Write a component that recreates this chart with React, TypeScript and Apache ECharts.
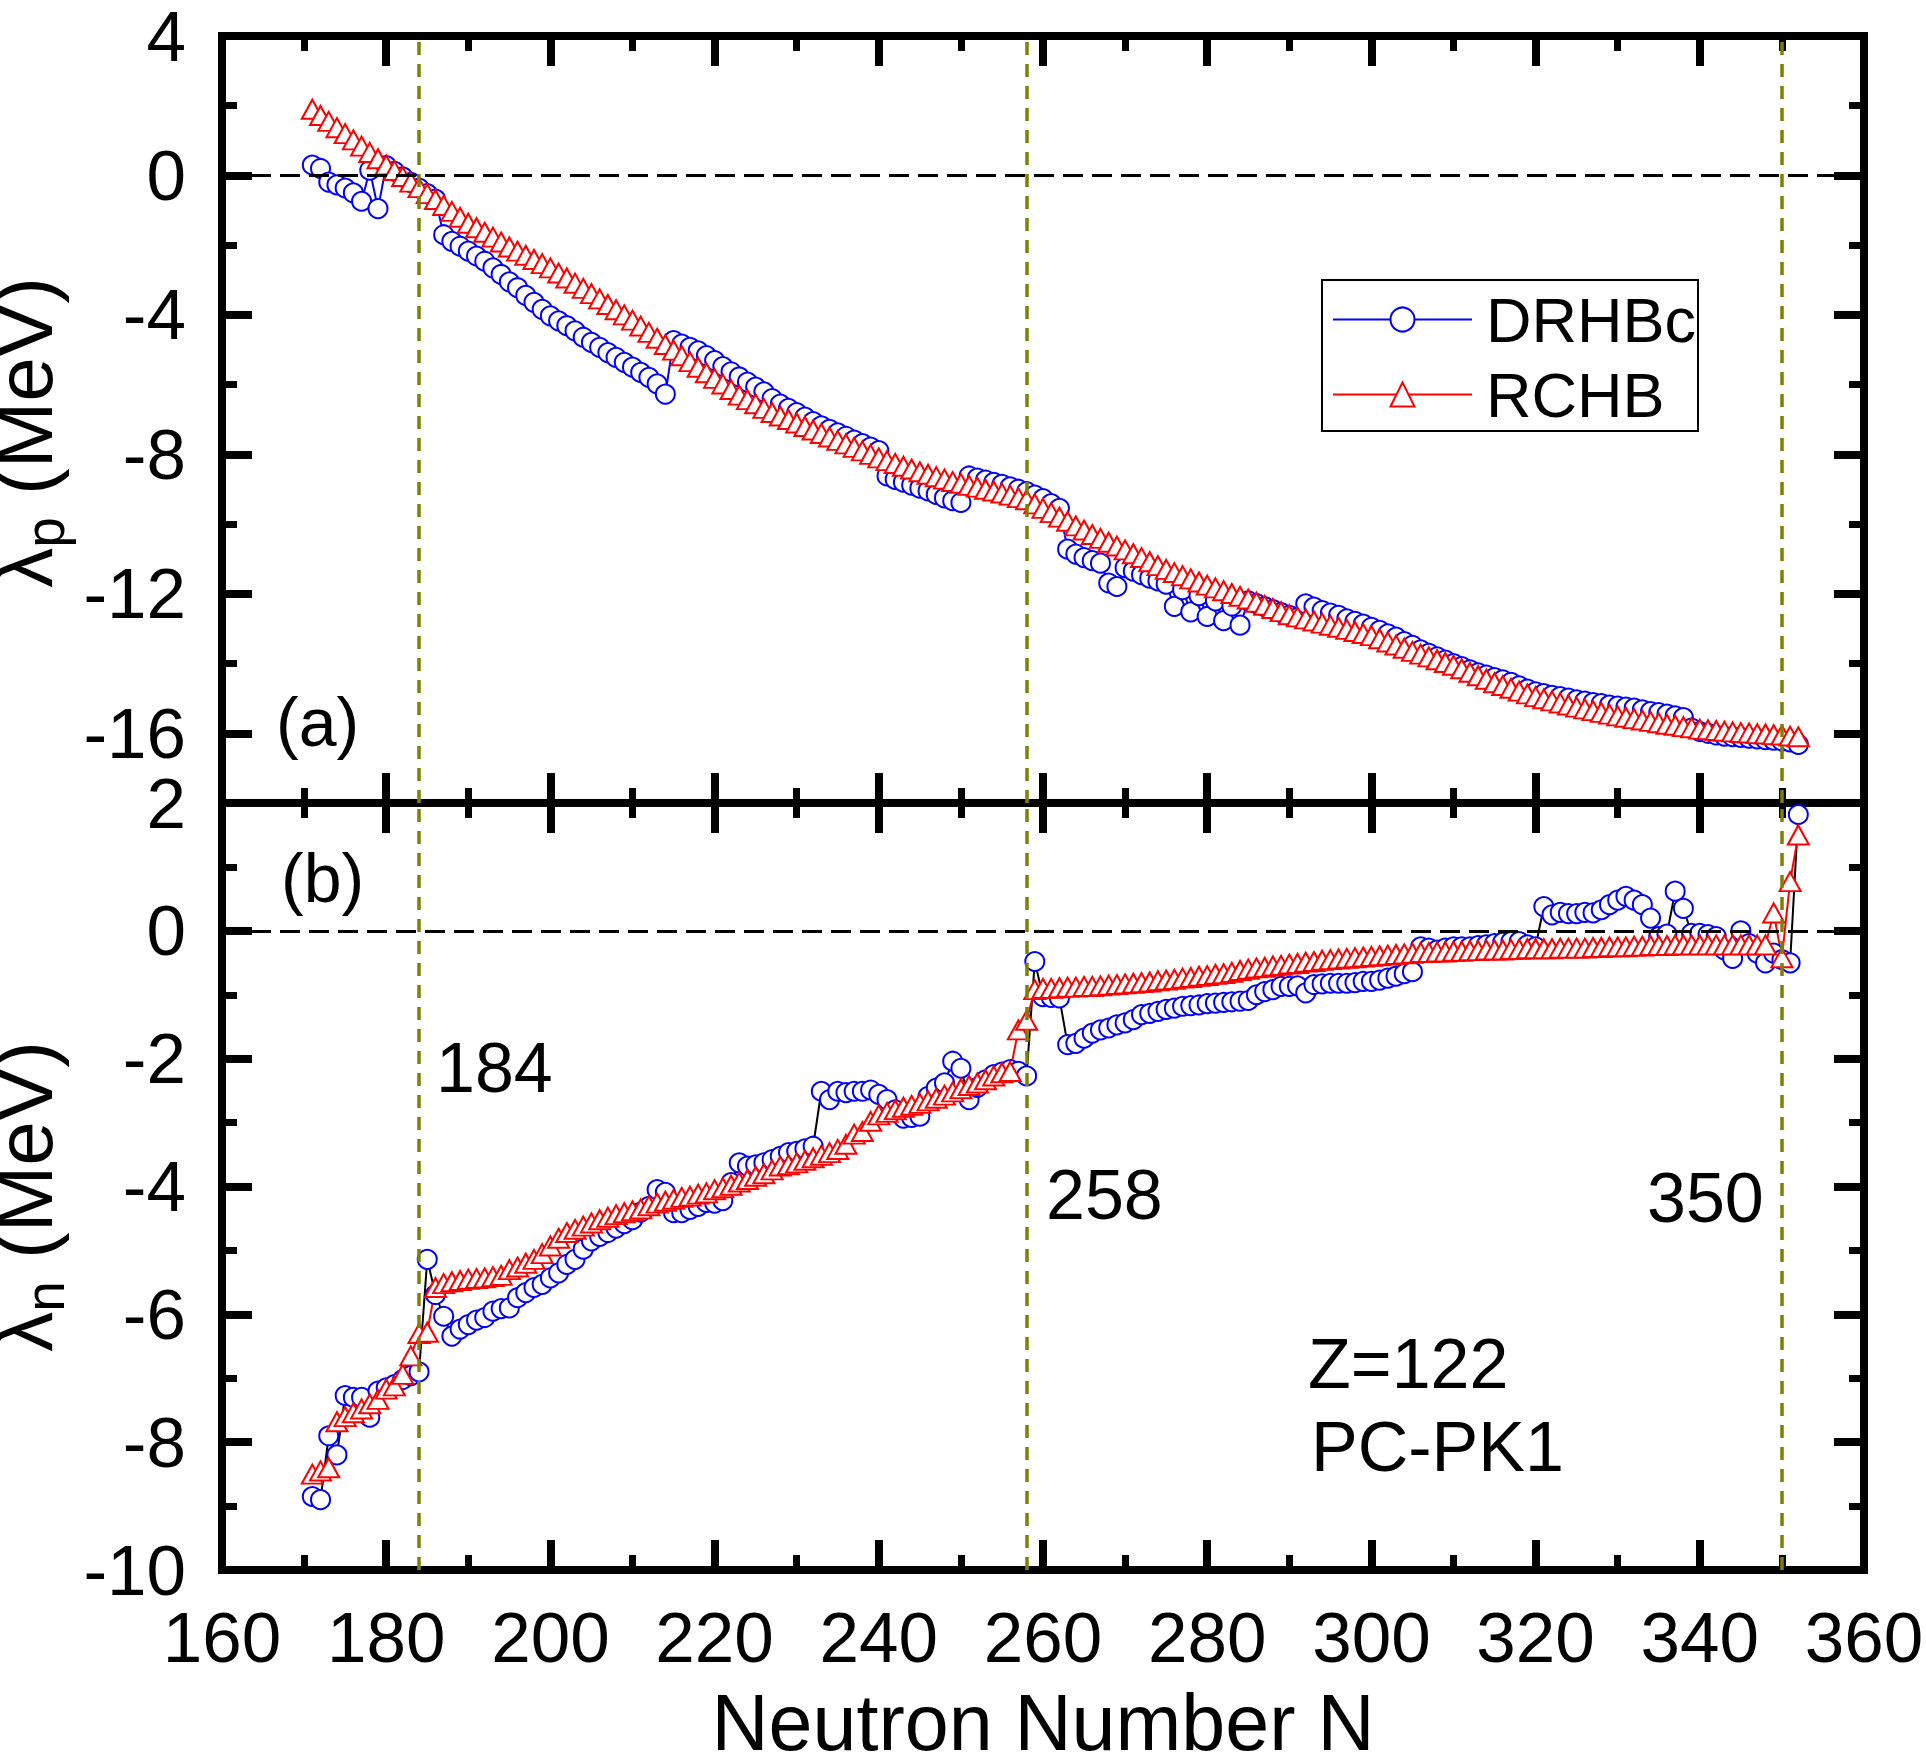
import React, { useEffect, useRef } from "react";
import * as echarts from "echarts";

// Neutron numbers N = 171 ... 352 (one point per N)
const N_FIRST = 171;
const N_LAST = 352;
const neutronNumbers: number[] = [];
for (let n = N_FIRST; n <= N_LAST; n++) neutronNumbers.push(n);

// (a) proton Fermi energy lambda_p (MeV), rows of 10 starting at N=171
const drhbcLambdaP = [
  0.30, 0.20, -0.19, -0.27, -0.36, -0.50, -0.74, 0.15, -0.95, 0.28,
  0.12, -0.04, -0.20, -0.36, -0.52, -0.68, -1.70, -1.89, -2.03, -2.17,
  -2.31, -2.46, -2.65, -2.84, -3.05, -3.22, -3.44, -3.64, -3.84, -4.03,
  -4.17, -4.31, -4.46, -4.64, -4.79, -4.93, -5.08, -5.22, -5.36, -5.50,
  -5.65, -5.79, -5.98, -6.27, -4.74, -4.84, -4.93, -5.03, -5.17, -5.31,
  -5.48, -5.63, -5.78, -5.93, -6.07, -6.21, -6.40, -6.56, -6.68, -6.80,
  -6.93, -7.06, -7.18, -7.28, -7.38, -7.48, -7.59, -7.69, -7.79, -7.89,
  -8.62, -8.72, -8.80, -8.88, -8.97, -9.05, -9.15, -9.25, -9.33, -9.38,
  -8.62, -8.68, -8.74, -8.80, -8.86, -8.93, -9.00, -9.07, -9.17, -9.27,
  -9.41, -9.55, -10.72, -10.86, -10.96, -11.05, -11.12, -11.69, -11.79, -11.25,
  -11.35, -11.45, -11.55, -11.63, -11.72, -12.36, -11.88, -12.52, -12.05, -12.65,
  -12.20, -12.77, -12.35, -12.90, -12.20, -12.28, -12.37, -12.45, -12.54, -12.62,
  -12.68, -12.29, -12.38, -12.48, -12.55, -12.62, -12.72, -12.79, -12.87, -12.96,
  -13.05, -13.15, -13.24, -13.37, -13.48, -13.61, -13.71, -13.81, -13.90, -14.00,
  -14.09, -14.18, -14.27, -14.33, -14.40, -14.47, -14.54, -14.64, -14.73, -14.81,
  -14.86, -14.91, -14.95, -14.99, -15.04, -15.08, -15.12, -15.15, -15.19, -15.22,
  -15.25, -15.28, -15.33, -15.38, -15.41, -15.45, -15.50, -15.55, -15.85, -15.95,
  -16.00, -16.05, -16.08, -16.10, -16.12, -16.14, -16.16, -16.18, -16.20, -16.22,
  -16.25, -16.32,
];

const rchbLambdaP = [
  1.90, 1.72, 1.55, 1.37, 1.20, 1.02, 0.84, 0.66, 0.48, 0.30,
  0.14, -0.03, -0.19, -0.35, -0.52, -0.69, -0.86, -1.03, -1.20, -1.37,
  -1.50, -1.63, -1.77, -1.91, -2.05, -2.17, -2.29, -2.41, -2.53, -2.65,
  -2.80, -2.94, -3.09, -3.24, -3.39, -3.54, -3.70, -3.85, -4.00, -4.15,
  -4.32, -4.50, -4.67, -4.85, -5.01, -5.17, -5.34, -5.50, -5.66, -5.82,
  -5.98, -6.14, -6.30, -6.43, -6.55, -6.68, -6.80, -6.90, -7.00, -7.10,
  -7.20, -7.30, -7.40, -7.50, -7.60, -7.70, -7.80, -7.90, -8.00, -8.10,
  -8.18, -8.26, -8.34, -8.42, -8.50, -8.57, -8.64, -8.71, -8.78, -8.83,
  -8.89, -8.94, -9.00, -9.05, -9.11, -9.17, -9.24, -9.30, -9.42, -9.55,
  -9.67, -9.80, -9.92, -10.05, -10.17, -10.30, -10.41, -10.52, -10.63, -10.74,
  -10.85, -10.96, -11.08, -11.19, -11.30, -11.39, -11.48, -11.57, -11.66, -11.75,
  -11.83, -11.91, -11.99, -12.07, -12.15, -12.24, -12.33, -12.42, -12.51, -12.60,
  -12.66, -12.72, -12.78, -12.84, -12.90, -12.96, -13.02, -13.08, -13.14, -13.20,
  -13.29, -13.38, -13.47, -13.56, -13.65, -13.73, -13.81, -13.89, -13.97, -14.05,
  -14.15, -14.25, -14.35, -14.45, -14.55, -14.63, -14.71, -14.79, -14.87, -14.95,
  -15.01, -15.07, -15.13, -15.19, -15.25, -15.30, -15.35, -15.40, -15.45, -15.50,
  -15.54, -15.58, -15.62, -15.66, -15.70, -15.74, -15.77, -15.81, -15.84, -15.88,
  -15.90, -15.92, -15.94, -15.96, -15.98, -15.99, -16.01, -16.02, -16.04, -16.05,
  -16.08, -16.10,
];

// (b) neutron Fermi energy lambda_n (MeV), rows of 10 starting at N=171
const drhbcLambdaN = [
  -8.85, -8.90, -7.90, -8.20, -7.27, -7.30, -7.30, -7.61, -7.20, -7.15,
  -7.10, -7.02, -6.96, -6.90, -5.14, -5.69, -6.03, -6.34, -6.23, -6.16,
  -6.09, -6.05, -5.95, -5.91, -5.90, -5.74, -5.66, -5.58, -5.53, -5.43,
  -5.35, -5.22, -5.14, -4.98, -4.85, -4.78, -4.72, -4.65, -4.58, -4.52,
  -4.40, -4.31, -4.05, -4.09, -4.41, -4.41, -4.36, -4.31, -4.25, -4.26,
  -4.22, -3.94, -3.63, -3.68, -3.66, -3.63, -3.58, -3.53, -3.47, -3.45,
  -3.41, -3.37, -2.51, -2.64, -2.51, -2.53, -2.51, -2.51, -2.49, -2.56,
  -2.64, -2.80, -2.93, -2.92, -2.90, -2.59, -2.46, -2.38, -2.04, -2.15,
  -2.64, -2.45, -2.33, -2.25, -2.21, -2.17, -2.20, -2.27, -0.48, -1.03,
  -1.04, -1.05, -1.78, -1.76, -1.68, -1.60, -1.55, -1.52, -1.47, -1.44,
  -1.39, -1.31, -1.29, -1.26, -1.23, -1.21, -1.18, -1.17, -1.16, -1.14,
  -1.13, -1.12, -1.11, -1.10, -1.09, -1.00, -0.95, -0.92, -0.87, -0.87,
  -0.86, -0.97, -0.84, -0.83, -0.82, -0.82, -0.82, -0.81, -0.79, -0.79,
  -0.77, -0.74, -0.71, -0.67, -0.64, -0.25, -0.27, -0.30, -0.27, -0.25,
  -0.25, -0.25, -0.23, -0.22, -0.20, -0.18, -0.17, -0.17, -0.22, -0.25,
  0.38, 0.25, 0.29, 0.27, 0.27, 0.29, 0.28, 0.33, 0.41, 0.48,
  0.54, 0.48, 0.41, 0.20, -0.09, -0.05, 0.62, 0.35, -0.04, -0.04,
  -0.06, -0.09, -0.30, -0.43, 0.00, -0.20, -0.35, -0.50, -0.35, -0.45,
  -0.50, 1.82,
];

const rchbLambdaN = [
  -8.50, -8.45, -8.40, -7.68, -7.60, -7.54, -7.48, -7.40, -7.33, -7.17,
  -7.12, -6.94, -6.65, -6.30, -6.28, -5.58, -5.52, -5.49, -5.47, -5.45,
  -5.44, -5.43, -5.41, -5.39, -5.30, -5.26, -5.20, -5.14, -5.05, -4.93,
  -4.81, -4.72, -4.67, -4.62, -4.57, -4.52, -4.48, -4.44, -4.41, -4.38,
  -4.35, -4.30, -4.26, -4.23, -4.20, -4.17, -4.15, -4.12, -4.10, -4.05,
  -4.02, -3.98, -3.93, -3.89, -3.84, -3.80, -3.74, -3.68, -3.66, -3.63,
  -3.59, -3.55, -3.51, -3.47, -3.42, -3.34, -3.18, -3.14, -2.98, -2.88,
  -2.84, -2.80, -2.76, -2.73, -2.70, -2.66, -2.62, -2.57, -2.52, -2.47,
  -2.42, -2.38, -2.33, -2.27, -2.22, -2.20, -1.55, -1.40, -0.92, -0.90,
  -0.90, -0.89, -0.88, -0.88, -0.87, -0.87, -0.86, -0.85, -0.84, -0.83,
  -0.82, -0.81, -0.80, -0.78, -0.77, -0.76, -0.74, -0.73, -0.71, -0.70,
  -0.68, -0.67, -0.65, -0.62, -0.60, -0.58, -0.57, -0.55, -0.54, -0.52,
  -0.51, -0.49, -0.48, -0.46, -0.45, -0.44, -0.43, -0.42, -0.41, -0.40,
  -0.39, -0.38, -0.37, -0.36, -0.35, -0.34, -0.34, -0.33, -0.33, -0.32,
  -0.32, -0.31, -0.31, -0.30, -0.30, -0.30, -0.29, -0.29, -0.28, -0.28,
  -0.28, -0.28, -0.27, -0.27, -0.27, -0.27, -0.26, -0.26, -0.25, -0.25,
  -0.25, -0.24, -0.24, -0.23, -0.23, -0.23, -0.22, -0.22, -0.22, -0.22,
  -0.22, -0.22, -0.22, -0.22, -0.22, -0.22, -0.22, -0.22, 0.28, -0.42,
  0.77, 1.50,
];

const magicNumbers = [184, 258, 350];
const topMajorTicks = [-16, -12, -8, -4, 0, 4];
const topMinorTicks = [-18, -14, -10, -6, -2, 2];

const FONT = "'Liberation Sans', Arial, Helvetica, sans-serif";
const BLUE = "#0000ff";
const RED = "#ff0000";
const OLIVE = "#808000";

function pairs(values: number[]) {
  return neutronNumbers.map((n, i) => [n, values[i]]);
}

const axisLineOpt = {
  show: true,
  onZero: false,
  lineStyle: { color: "#000", width: 8, cap: "square" },
};
const tickStyle = { color: "#000", width: 8 };
const minorTickOpt = {
  show: true,
  splitNumber: 2,
  length: 15,
  lineStyle: { color: "#000", width: 7 },
};
const labelOpt = {
  show: true,
  fontSize: 71,
  lineHeight: 62,
  color: "#000",
  fontFamily: FONT,
};

function xAxisDef(gridIndex: number, position: string, showLabels: boolean, name?: string) {
  return {
    type: "value",
    gridIndex,
    position,
    min: 160,
    max: 360,
    interval: 20,
    axisLine: axisLineOpt,
    axisTick: { show: true, inside: true, length: 30, lineStyle: tickStyle },
    minorTick: minorTickOpt,
    splitLine: { show: false },
    minorSplitLine: { show: false },
    axisLabel: showLabels ? { ...labelOpt, margin: 36 } : { show: false },
    name: name || "",
    nameLocation: "middle",
    nameGap: 119,
    nameTextStyle: { fontSize: 79, lineHeight: 66, color: "#000", fontFamily: FONT },
  };
}

const yNameRich = {
  a: { fontSize: 80, lineHeight: 80, fontFamily: FONT, color: "#000" },
  b: { fontSize: 55, lineHeight: 55, padding: [40, 0, 0, 0], fontFamily: FONT, color: "#000" },
};

function yTopMajor(position: string, showLabels: boolean) {
  return {
    type: "value",
    gridIndex: 0,
    position,
    min: -18,
    max: 4,
    interval: 2,
    axisLine: axisLineOpt,
    axisTick: { show: true, inside: true, length: 30, lineStyle: tickStyle, customValues: topMajorTicks },
    minorTick: { show: false },
    splitLine: { show: false },
    axisLabel: showLabels
      ? { ...labelOpt, margin: 36, customValues: topMajorTicks }
      : { show: false },
    name: showLabels ? "{a|λ}{b|p}{a| (MeV)}" : "",
    nameLocation: "middle",
    nameGap: 100,
    nameTextStyle: { fontFamily: FONT, color: "#000", rich: yNameRich, padding: [0, 26, 0, 0] },
  };
}

function yTopMinor(position: string) {
  return {
    type: "value",
    gridIndex: 0,
    position,
    min: -18,
    max: 4,
    interval: 2,
    axisLine: { show: false },
    axisLabel: { show: false },
    splitLine: { show: false },
    minorTick: { show: false },
    axisTick: {
      show: true,
      inside: true,
      length: 15,
      lineStyle: { color: "#000", width: 7 },
      customValues: topMinorTicks,
    },
  };
}

function yBottom(position: string, showLabels: boolean) {
  return {
    type: "value",
    gridIndex: 1,
    position,
    min: -10,
    max: 2,
    interval: 2,
    axisLine: axisLineOpt,
    axisTick: { show: true, inside: true, length: 30, lineStyle: tickStyle },
    minorTick: minorTickOpt,
    splitLine: { show: false },
    minorSplitLine: { show: false },
    axisLabel: showLabels ? { ...labelOpt, margin: 36 } : { show: false },
    name: showLabels ? "{a|λ}{b|n}{a| (MeV)}" : "",
    nameLocation: "middle",
    nameGap: 100,
    nameTextStyle: { fontFamily: FONT, color: "#000", rich: yNameRich, padding: [0, 20, 0, 0] },
  };
}

const markLines = {
  silent: true,
  symbol: ["none", "none"],
  label: { show: false },
  animation: false,
  data: [
    ...magicNumbers.map((m) => ({
      xAxis: m,
      lineStyle: { color: OLIVE, type: [13, 9], width: 3.5 },
    })),
    { yAxis: 0, lineStyle: { color: "#000", type: [20, 9], width: 3 } },
  ],
};

function lineSeries(
  name: string,
  values: number[],
  xi: number,
  yi: number,
  symbol: string,
  symbolSize: number | number[],
  markerColor: string,
  lineColor: string,
  withMarks: boolean
) {
  return {
    name,
    type: "line",
    xAxisIndex: xi,
    yAxisIndex: yi,
    data: pairs(values),
    symbol,
    symbolSize,
    showSymbol: true,
    showAllSymbol: true,
    itemStyle: { color: "#fff", borderColor: markerColor, borderWidth: 2 },
    lineStyle: { color: lineColor, width: 2 },
    emphasis: { disabled: true },
    markLine: withMarks ? markLines : undefined,
  };
}

function textEl(text: string, x: number, y: number, size: number) {
  return {
    type: "text",
    x,
    y,
    silent: true,
    style: {
      text,
      fill: "#000",
      fontSize: size,
      fontFamily: FONT,
      align: "left",
      verticalAlign: "middle",
    },
    z: 10,
  };
}

export default function App() {
  const ref = useRef<HTMLDivElement>(null);

  useEffect(() => {
    if (!ref.current) return;
    const chart = echarts.init(ref.current, undefined, { renderer: "svg" });
    const option = {
      animation: false,
      backgroundColor: "#fff",
      grid: [
        { left: 222, top: 36, width: 1642, height: 767, containLabel: false, outerBoundsMode: "none" },
        { left: 222, top: 803, width: 1642, height: 767, containLabel: false, outerBoundsMode: "none" },
      ],
      xAxis: [
        xAxisDef(0, "bottom", false),
        xAxisDef(0, "top", false),
        xAxisDef(1, "bottom", true, "Neutron Number N"),
        xAxisDef(1, "top", false),
      ],
      yAxis: [
        yTopMajor("left", true),
        yTopMinor("left"),
        yTopMajor("right", false),
        yTopMinor("right"),
        yBottom("left", true),
        yBottom("right", false),
      ],
      legend: {
        show: true,
        selectedMode: false,
        orient: "vertical",
        left: 1322,
        top: 280,
        padding: [8, 2, 5, 10],
        itemGap: 12,
        itemWidth: 139,
        itemHeight: 30,
        borderColor: "#000",
        borderWidth: 2,
        backgroundColor: "#fff",
        data: ["DRHBc", "RCHB"],
        textStyle: {
          fontSize: 63,
          lineHeight: 63,
          fontFamily: FONT,
          color: "#000",
          padding: [0, 0, 0, 9],
        },
      },
      graphic: [
        textEl("(a)", 276, 722, 68),
        textEl("(b)", 281, 878, 68),
        textEl("184", 436, 1068, 70),
        textEl("258", 1046, 1195, 70),
        textEl("350", 1647, 1198, 70),
        textEl("Z=122", 1308, 1364, 70),
        textEl("PC-PK1", 1311, 1447, 70),
      ],
      series: [
        lineSeries("DRHBc", drhbcLambdaP, 0, 0, "circle", 19, BLUE, BLUE, false),
        lineSeries("RCHB", rchbLambdaP, 0, 0, "triangle", [21, 19], RED, RED, true),
        lineSeries("DRHBc", drhbcLambdaN, 2, 4, "circle", 19, BLUE, "#000", false),
        lineSeries("RCHB", rchbLambdaN, 2, 4, "triangle", [21, 19], RED, RED, true),
      ],
    };
    chart.setOption(option as any);
    return () => {
      chart.dispose();
    };
  }, []);

  return (
    <div
      ref={ref}
      style={{ position: "absolute", left: 0, top: 0, width: 1926, height: 1762, background: "#fff" }}
    />
  );
}
